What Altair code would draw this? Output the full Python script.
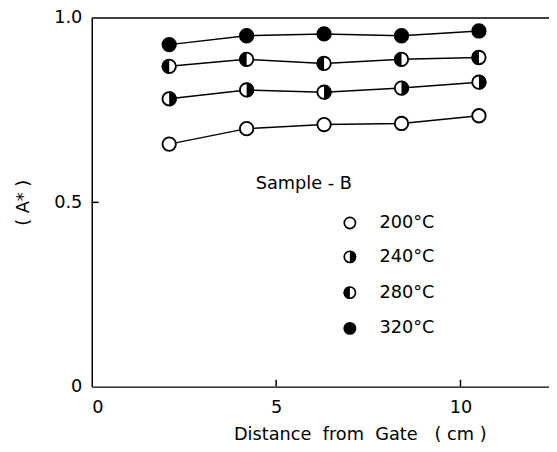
import altair as alt
import pandas as pd

# ---- data ----
distance = [2.1, 4.2, 6.3, 8.4, 10.5]
series_names = ["200°C", "240°C", "280°C", "320°C"]
a_200 = [0.658, 0.700, 0.711, 0.714, 0.735]
a_240 = [0.781, 0.805, 0.799, 0.810, 0.826]
a_280 = [0.869, 0.888, 0.877, 0.888, 0.893]
a_320 = [0.928, 0.952, 0.957, 0.952, 0.965]
x_ticks = [0, 5, 10]
y_ticks = [0, 0.5, 1.0]

# marker styles: base circle fill, half-disc overlay
fills = {"200°C": "white", "240°C": "white", "280°C": "white", "320°C": "black"}
RIGHT_HALF = "M0,-1A1,1,0,0,1,0,1Z"
LEFT_HALF = "M0,-1A1,1,0,0,0,0,1Z"
halves = {"240°C": RIGHT_HALF, "280°C": LEFT_HALF}

rows = []
for name, vals in zip(series_names, [a_200, a_240, a_280, a_320]):
    for d, v in zip(distance, vals):
        rows.append({"series": name, "distance": d, "A": v,
                     "fill": fills[name], "half": halves.get(name, "")})
df = pd.DataFrame(rows)

# legend (annotation inside plot)
legend_x = 7.0
legend_text_x = 7.8
legend_y = [0.444, 0.352, 0.255, 0.158]
leg = pd.DataFrame({
    "series": series_names,
    "lx": [legend_x] * 4,
    "tx": [legend_text_x] * 4,
    "ly": legend_y,
    "fill": [fills[s] for s in series_names],
    "half": [halves.get(s, "") for s in series_names],
})
sample_label = pd.DataFrame({"lx": [5.75], "ly": [0.55], "t": ["Sample - B"]})

FONT = "DejaVu Sans"
NB = "\u00a0"
x_title = f"Distance{NB}{NB}from{NB}{NB}Gate{NB}{NB}{NB}({NB}cm{NB})"
xscale = alt.Scale(domain=[0, 12.4], nice=False, zero=False)
yscale = alt.Scale(domain=[0, 1.0], nice=False)

x_enc = alt.X("distance:Q", scale=xscale,
              axis=alt.Axis(values=x_ticks, title=x_title,
                            grid=False, ticks=False, labelPadding=12,
                            labelFontSize=18, titleFontSize=18, titlePadding=10,
                            titleX=272, titleAnchor="middle",
                            labelFont=FONT, titleFont=FONT, titleFontWeight="normal",
                            labelColor="black", titleColor="black",
                            domainColor="black", domainWidth=1.5))
y_enc = alt.Y("A:Q", scale=yscale,
              axis=alt.Axis(values=y_ticks, title="( A* )", grid=False, ticks=False,
                            labelExpr="datum.value == 0 ? '0' : format(datum.value, '.1f')",
                            labelPadding=10, labelFontSize=18, titleFontSize=18,
                            titlePadding=22, labelFont=FONT, titleFont=FONT,
                            titleFontWeight="normal", labelColor="black",
                            titleColor="black", domainColor="black", domainWidth=1.5))

base = alt.Chart(df)
lines = base.mark_line(color="black", strokeWidth=1.5).encode(
    x=x_enc, y=y_enc, detail="series:N")
circles = base.mark_point(shape="circle", size=185, stroke="black", strokeWidth=1.9,
                          opacity=1).encode(
    x="distance:Q", y="A:Q", fill=alt.Fill("fill:N", scale=None))
half_discs = base.transform_filter("datum.half != ''").mark_point(
    size=230, fill="black", strokeWidth=0, opacity=1).encode(
    x="distance:Q", y="A:Q", shape=alt.Shape("half:N", scale=None))

legend_base = alt.Chart(leg)
leg_circles = legend_base.mark_point(shape="circle", size=130, stroke="black",
                                     strokeWidth=1.7, opacity=1).encode(
    x="lx:Q", y="ly:Q", fill=alt.Fill("fill:N", scale=None))
leg_halves = legend_base.transform_filter("datum.half != ''").mark_point(
    size=160, fill="black", strokeWidth=0, opacity=1).encode(
    x="lx:Q", y="ly:Q", shape=alt.Shape("half:N", scale=None))
leg_text = legend_base.mark_text(align="left", baseline="middle", font=FONT,
                                 fontSize=18, color="black").encode(
    x="tx:Q", y="ly:Q", text="series:N")
sample_text = alt.Chart(sample_label).mark_text(align="center", baseline="middle",
                                                font=FONT, fontSize=18,
                                                color="black").encode(
    x="lx:Q", y="ly:Q", text="t:N")

# inward tick marks and top frame line
xt = pd.DataFrame({"v": x_ticks[1:]})
yt = pd.DataFrame({"v": [y_ticks[1]]})
top = pd.DataFrame({"v": [y_ticks[-1]]})
x_tick_rules = alt.Chart(xt).mark_rule(color="black", strokeWidth=1.5).encode(
    x="v:Q", y=alt.value(374), y2=alt.value(367))
y_tick_rules = alt.Chart(yt).mark_rule(color="black", strokeWidth=1.5).encode(
    y="v:Q", x=alt.value(0), x2=alt.value(7))
top_rule = alt.Chart(top).mark_rule(color="black", strokeWidth=1.5).encode(
    y="v:Q", x=alt.value(0), x2=alt.value(470))

chart = alt.layer(lines, circles, half_discs, leg_circles, leg_halves, leg_text,
                  sample_text, x_tick_rules, y_tick_rules, top_rule).properties(
    width=464, height=374,
    autosize=alt.AutoSizeParams(type="none"),
    padding={"left": 85, "top": 7, "right": 0, "bottom": 55},
    background="white",
).configure_view(stroke=None)

chart.save("out.html", embed_options={"renderer": "svg", "actions": False})
